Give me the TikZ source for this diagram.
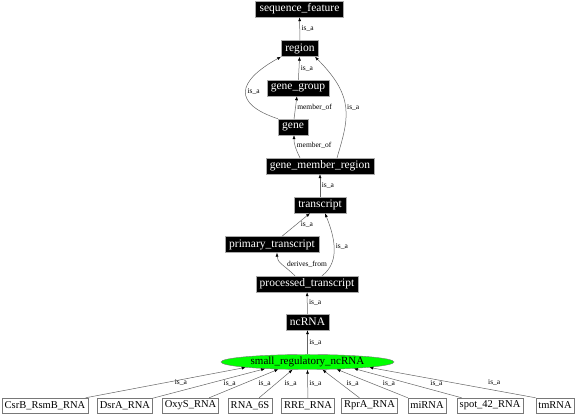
\documentclass[tikz,border=0pt]{standalone}
\usepackage{fontspec}
\setmainfont{Liberation Serif}
\usepackage{tikz}
\usetikzlibrary{arrows.meta,positioning,shapes.geometric}
\definecolor{termgray}{RGB}{170,170,170}
\definecolor{leafgray}{RGB}{120,120,120}
\definecolor{edgegray}{RGB}{100,100,100}
\definecolor{focusgreen}{RGB}{0,255,0}
\newcommand\termfont{\fontsize{11.5}{13}\selectfont}
\newcommand\leaffont{\fontsize{10.5}{12}\selectfont}
\newcommand\relfont{\fontsize{7.5}{8}\selectfont}

\begin{document}
\begin{tikzpicture}[x=1pt,y=1pt,>={Latex[length=4pt,width=3pt,color=black]}]
\tikzstyle{term}=[draw=termgray,fill=black,text=white,inner xsep=4pt,inner ysep=1pt,minimum height=16pt,font=\termfont]
\tikzstyle{leaf}=[draw=leafgray,fill=white,inner xsep=2.5pt,inner ysep=1pt,minimum height=15pt,font=\leaffont]
\tikzstyle{focus}=[ellipse,draw=leafgray,fill=focusgreen,inner sep=0pt,minimum width=173pt,minimum height=15pt,font=\fontsize{11}{13}\selectfont]
\tikzstyle{rel}=[->,draw=edgegray,line width=0.5pt]
\tikzstyle{lbl}=[font=\relfont,inner sep=0.5pt]
\useasboundingbox (0,0) rectangle (576,414);
% ontology chain
\node[term] (seqfeat) at (299.5,405) {sequence\_feature};
\node[term] (region) at (300,365.5) {region};
\node[term] (genegroup) at (298,326) {gene\_group};
\node[term] (gene) at (293,287) {gene};
\node[term] (gmr) at (320,248) {gene\_member\_region};
\node[term] (transcript) at (320,209) {transcript};
\node[term] (primary) at (272,169.5) {primary\_transcript};
\node[term] (processed) at (307,130) {processed\_transcript};
\node[term] (ncrna) at (307.5,92) {ncRNA};
\node[focus] (smallreg) at (307.5,52) {small\_regulatory\_ncRNA};
% leaves
\node[leaf] (csrb) at (45,8.5) {CsrB\_RsmB\_RNA};
\node[leaf] (dsra) at (125,8.5) {DsrA\_RNA};
\node[leaf] (oxys) at (190.5,8.5) {OxyS\_RNA};
\node[leaf] (rna6s) at (250,8.5) {RNA\_6S};
\node[leaf] (rre) at (308,8.5) {RRE\_RNA};
\node[leaf] (rpra) at (369.5,8.5) {RprA\_RNA};
\node[leaf] (mirna) at (427,8.5) {miRNA};
\node[leaf] (spot42) at (490,8.5) {spot\_42\_RNA};
\node[leaf] (tmrna) at (555,8.5) {tmRNA};
% relations
\draw[rel] (region) -- node[lbl,right=1pt] {is\_a} (seqfeat);
\draw[rel] (genegroup) -- node[lbl,right=1pt] {is\_a} (region);
\draw[rel] (gene.north west) .. controls +(-45,15) and +(-45,-25) .. node[lbl,pos=.5,right=1pt] {is\_a} (region.south west);
\draw[rel] (gene) -- node[lbl,right=1pt] {member\_of} (genegroup);
\draw[rel] ([xshift=17pt]gmr.north) .. controls +(12,40) and +(40,-40) .. node[lbl,pos=.5,right=1pt] {is\_a} ([xshift=-4pt]region.south east);
\draw[rel] ([xshift=-20pt]gmr.north) .. controls +(-5,10) and +(0,-8) .. node[lbl,pos=.5,right=1pt] {member\_of} ([xshift=1pt]gene.south);
\draw[rel] (transcript) -- node[lbl,right=1pt] {is\_a} (gmr);
\draw[rel] (primary) -- node[lbl,right=4pt] {is\_a} (transcript);
\draw[rel] ([xshift=15pt]processed.north) .. controls +(20,15) and +(8,-20) .. node[lbl,pos=.5,right=1pt] {is\_a} ([xshift=5pt]transcript.south);
\draw[rel] ([xshift=-12pt]processed.north) .. controls +(-10,10) and +(0,-10) .. node[lbl,pos=.5,right=4pt] {derives\_from} ([xshift=5pt]primary.south);
\draw[rel] (ncrna) -- node[lbl,right=1pt] {is\_a} (processed);
\draw[rel] (smallreg) -- node[lbl,right=1pt] {is\_a} (ncrna);
\draw[rel] (csrb) -- node[lbl,pos=.5,right=8.5pt] {is\_a} (smallreg.185);
\draw[rel] (dsra) -- node[lbl,pos=.5,right=14pt] {is\_a} (smallreg.189);
\draw[rel] (oxys) -- node[lbl,pos=.5,right=14pt] {is\_a} (smallreg.194.5);
\draw[rel] (rna6s) -- node[lbl,pos=.5,right=8pt] {is\_a} (smallreg.207);
\draw[rel] (rre) -- node[lbl,pos=.5,right=1pt] {is\_a} (smallreg.270);
\draw[rel] (rpra) -- node[lbl,pos=.5,right=5pt] {is\_a} (smallreg.333);
\draw[rel] (mirna) -- node[lbl,pos=.5,right=10pt] {is\_a} (smallreg.346.6);
\draw[rel] (spot42) -- node[lbl,pos=.5,right=22pt] {is\_a} (smallreg.352);
\draw[rel] (tmrna.north west) -- node[lbl,pos=.5,right=35pt] {is\_a} (smallreg.355.6);
\end{tikzpicture}
\end{document}
